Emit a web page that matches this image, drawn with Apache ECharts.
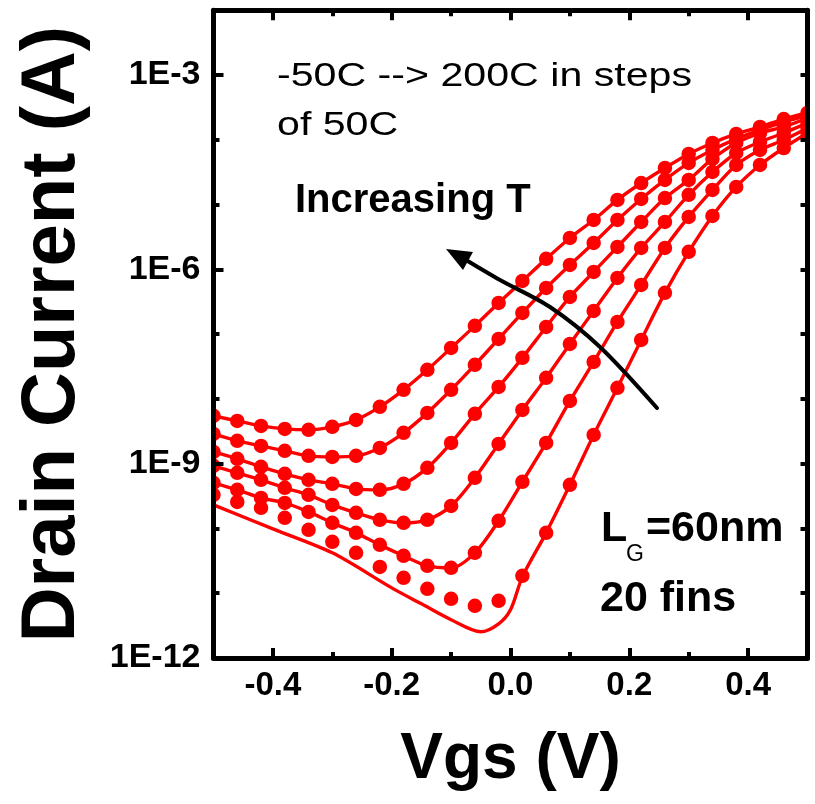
<!DOCTYPE html>
<html><head><meta charset="utf-8">
<script src="https://cdn.jsdelivr.net/npm/echarts@6/dist/echarts.min.js"></script>
<style>html,body{margin:0;padding:0;background:#fff}#c{width:815px;height:804px}</style>
</head><body><div id="c"></div>
<script>
// Gate voltage grid of the measured points (V)
const vgs = [-0.50,-0.46,-0.42,-0.38,-0.34,-0.30,-0.26,-0.22,-0.18,-0.14,-0.10,-0.06,-0.02,
             0.02,0.06,0.10,0.14,0.18,0.22,0.26,0.30,0.34,0.38,0.42,0.46,0.50];
// Measured drain current (A), one array per temperature
const idT200 = [5.47e-9,4.57e-9,3.83e-9,3.44e-9,3.33e-9,3.70e-9,4.74e-9,7.53e-9,1.38e-8,2.81e-8,6.12e-8,1.34e-7,3.03e-7,
                6.62e-7,1.45e-6,3.05e-6,5.78e-6,1.18e-5,2.15e-5,3.67e-5,6.04e-5,8.93e-5,1.23e-4,1.58e-4,2.09e-4,2.59e-4];
const idT150 = [2.88e-9,2.25e-9,1.88e-9,1.58e-9,1.32e-9,1.27e-9,1.32e-9,1.75e-9,2.99e-9,6.08e-9,1.38e-8,3.35e-8,8.43e-8,
                2.12e-7,5.16e-7,1.17e-6,2.55e-6,5.78e-6,1.22e-5,2.40e-5,4.39e-5,6.97e-5,1.03e-4,1.42e-4,1.88e-4,2.33e-4];
const idT100 = [1.52e-9,1.19e-9,8.93e-10,6.97e-10,5.62e-10,4.88e-10,4.08e-10,3.94e-10,4.88e-10,8.61e-10,2.09e-9,5.87e-9,1.53e-8,
                4.30e-8,1.29e-7,3.75e-7,9.12e-7,2.22e-6,5.38e-6,1.26e-5,2.40e-5,5.06e-5,8.93e-5,1.27e-4,1.58e-4,2.17e-4];
const idT50  = [9.25e-10,7.21e-10,5.62e-10,4.24e-10,3.30e-10,2.31e-10,1.74e-10,1.36e-10,1.22e-10,1.36e-10,2.23e-10,6.04e-10,2.02e-9,
                6.76e-9,2.11e-8,7.06e-8,2.28e-7,7.36e-7,2.14e-6,5.38e-6,1.41e-5,3.18e-5,6.25e-5,9.25e-5,1.27e-4,1.82e-4];
const idT0   = [5.06e-10,3.94e-10,2.96e-10,2.48e-10,1.80e-10,1.22e-10,8.55e-11,5.58e-11,3.78e-11,2.65e-11,2.47e-11,4.20e-11,1.31e-10,
                5.24e-10,2.09e-9,9.31e-9,3.72e-8,1.54e-7,5.74e-7,2.14e-6,6.44e-6,1.68e-5,4.08e-5,6.97e-5,9.93e-5,1.52e-4];
const idTm50 = [3.30e-10,2.57e-10,2.08e-10,1.46e-10,9.51e-11,6.21e-11,4.20e-11,2.55e-11,1.73e-11,1.17e-11,8.20e-12,6.40e-12,7.64e-12,
                1.86e-11,8.55e-11,4.71e-10,2.78e-9,1.48e-8,8.13e-8,4.33e-7,1.86e-6,6.67e-6,1.87e-5,4.08e-5,7.46e-5,1.27e-4];
// Simulated curve for -50C (deviates from measurement near the minimum)
const vgsSimTm50 = [-0.50,-0.40,-0.30,-0.20,-0.15,-0.10,-0.05,-0.02,0.00,0.02,0.06,0.10,0.14,0.18,0.22,0.26,0.30,0.34,0.38,0.42,0.46,0.50];
const simTm50 = [2.31e-10,9.86e-11,4.20e-11,1.21e-11,6.85e-12,3.89e-12,2.54e-12,3.37e-12,5.55e-12,1.79e-11,8.55e-11,4.71e-10,
                 2.78e-9,1.48e-8,8.13e-8,4.33e-7,1.86e-6,6.67e-6,1.87e-5,4.08e-5,7.46e-5,1.27e-4];
// Ticks
const xMajorTicks = [-0.4,-0.2,0,0.2,0.4];
const xMinorTicks = [-0.3,-0.1,0.1,0.3];
const yMajorTicks = [1e-12,1e-9,1e-6,1e-3];
const yMinorTicks = [1e-11,1e-10,1e-8,1e-7,1e-5,1e-4];
const yAllTicks = [1e-11,1e-10,1e-9,1e-8,1e-7,1e-6,1e-5,1e-4,1e-3];

const FONT = '"Liberation Sans", Arial, sans-serif';
const RED = '#ff0000';
const pair = (xs, ys) => xs.map((x, i) => [x, ys[i]]);

const measured = [idTm50, idT0, idT50, idT100, idT150, idT200];
const simulated = [[vgsSimTm50, simTm50], [vgs, idT0], [vgs, idT50], [vgs, idT100], [vgs, idT150], [vgs, idT200]];

const series = [];
simulated.forEach(([xs, ys]) => series.push({
  type: 'line', data: pair(xs, ys), showSymbol: false, smooth: 0.3,
  lineStyle: {color: RED, width: 3.4, opacity: 1}, z: 2, silent: true
}));
measured.forEach(ys => series.push({
  type: 'scatter', data: pair(vgs, ys), symbol: 'circle', symbolSize: 14.5,
  itemStyle: {color: RED, opacity: 1}, z: 3, silent: true
}));

const xBase = {type: 'value', min: -0.5, max: 0.5, interval: 0.1, splitLine: {show: false}, z: 10};
const yBase = {type: 'log', logBase: 10, min: 1e-12, max: 1e-2, splitLine: {show: false}, z: 10};
const axLine = {show: true, onZero: false, lineStyle: {color: '#000', width: 5}};
const noLine = {show: false, onZero: false};

const option = {
  animation: false,
  backgroundColor: '#fff',
  grid: {left: 213.5, right: 7.5, top: 10.2, bottom: 146, containLabel: false, outerBoundsMode: 'none'},
  xAxis: [
    Object.assign({}, xBase, {position: 'bottom', axisLine: axLine,
      axisTick: {show: true, inside: true, length: 10, lineStyle: {color: '#000', width: 4}, customValues: xMajorTicks},
      axisLabel: {show: true, customValues: xMajorTicks, margin: 11, color: '#000', fontSize: 33, fontWeight: 'bold', fontFamily: FONT,
        formatter: v => v.toFixed(1)},
      name: 'Vgs (V)', nameLocation: 'middle', nameGap: 70,
      nameTextStyle: {color: '#000', fontSize: 64, fontWeight: 'bold', fontFamily: FONT}}),
    Object.assign({}, xBase, {position: 'bottom', axisLine: noLine,
      axisTick: {show: true, inside: true, length: 6, lineStyle: {color: '#000', width: 4}, customValues: xMinorTicks},
      axisLabel: {show: false}}),
    Object.assign({}, xBase, {position: 'top', axisLine: axLine,
      axisTick: {show: true, inside: true, length: 10, lineStyle: {color: '#000', width: 4}, customValues: xMajorTicks},
      axisLabel: {show: false}}),
    Object.assign({}, xBase, {position: 'top', axisLine: noLine,
      axisTick: {show: true, inside: true, length: 6, lineStyle: {color: '#000', width: 4}, customValues: xMinorTicks},
      axisLabel: {show: false}})
  ],
  yAxis: [
    Object.assign({}, yBase, {position: 'left', axisLine: axLine,
      axisTick: {show: true, inside: true, length: 10, lineStyle: {color: '#000', width: 4}, customValues: yMajorTicks},
      axisLabel: {show: true, customValues: yMajorTicks, margin: 13, color: '#000', fontSize: 34, fontWeight: 'bold', fontFamily: FONT,
        formatter: v => '1E' + Math.round(Math.log10(v))},
      name: 'Drain Current (A)', nameLocation: 'middle', nameGap: 122,
      nameTextStyle: {color: '#000', fontSize: 76, fontWeight: 'bold', fontFamily: FONT}}),
    Object.assign({}, yBase, {position: 'left', axisLine: noLine,
      axisTick: {show: true, inside: true, length: 6, lineStyle: {color: '#000', width: 4}, customValues: yMinorTicks},
      axisLabel: {show: false}}),
    Object.assign({}, yBase, {position: 'right', axisLine: axLine,
      axisTick: {show: true, inside: true, length: 7, lineStyle: {color: '#000', width: 4}, customValues: yAllTicks},
      axisLabel: {show: false}})
  ],
  series: series,
  graphic: [
    // white masks clipping the half markers sitting on the frame
    {type: 'rect', shape: {x: 0, y: 0, width: 211, height: 670}, style: {fill: '#fff'}, z: 5, silent: true},
    {type: 'rect', shape: {x: 810, y: 0, width: 10, height: 670}, style: {fill: '#fff'}, z: 5, silent: true},
    {type: 'text', x: 277, y: 77, scaleX: 1.21, z: 20,
      style: {text: '-50C --> 200C in steps', font: '34px ' + FONT, fill: '#000', verticalAlign: 'middle'}},
    {type: 'text', x: 277, y: 126, scaleX: 1.21, z: 20,
      style: {text: 'of 50C', font: '34px ' + FONT, fill: '#000', verticalAlign: 'middle'}},
    {type: 'text', x: 295, y: 201, z: 20,
      style: {text: 'Increasing T', font: 'bold 40px ' + FONT, fill: '#000', verticalAlign: 'middle'}},
    {type: 'text', x: 601, y: 529, z: 20,
      style: {text: 'L', font: 'bold 43px ' + FONT, fill: '#000', verticalAlign: 'middle'}},
    {type: 'text', x: 626, y: 555, z: 20,
      style: {text: 'G', font: '23px ' + FONT, fill: '#000', verticalAlign: 'middle'}},
    {type: 'text', x: 646, y: 529, z: 20,
      style: {text: '=60nm', font: 'bold 43px ' + FONT, fill: '#000', verticalAlign: 'middle'}},
    {type: 'text', x: 600, y: 599, z: 20,
      style: {text: '20 fins', font: 'bold 43px ' + FONT, fill: '#000', verticalAlign: 'middle'}},
    {type: 'polyline', z: 20, shape: {points: [[657,408],[600,347],[550,307],[500,280],[466,260]], smooth: 0.3},
      style: {stroke: '#000', lineWidth: 4, fill: null, lineCap: 'round'}},
    {type: 'polygon', z: 20, shape: {points: [[446,249],[473,252],[463,270]]}, style: {fill: '#000'}}
  ]
};

const chart = echarts.init(document.getElementById('c'), null, {renderer: 'canvas'});
chart.setOption(option);
</script>
</body></html>
